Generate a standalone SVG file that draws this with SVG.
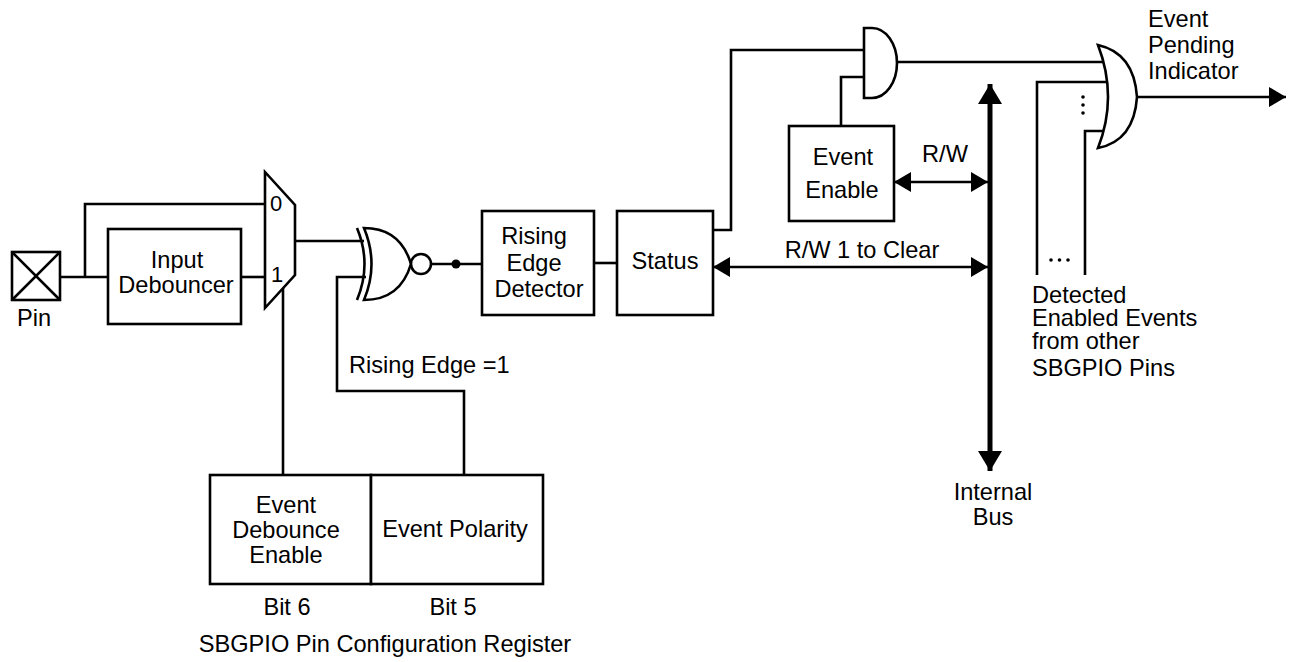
<svg xmlns="http://www.w3.org/2000/svg" width="1289" height="662" viewBox="0 0 1289 662">
<style>
.ln{fill:none;stroke:#000;stroke-width:2.6;stroke-linejoin:miter}
.bx{fill:#fff;stroke:#000;stroke-width:2.6}
.t{font-family:"Liberation Sans",Arial,Helvetica,sans-serif;font-size:23.6px;fill:#000}
.c{text-anchor:middle}
.dot{fill:#000}
</style>
<defs>
<marker id="ah" markerUnits="userSpaceOnUse" viewBox="0 0 17 20" refX="17" refY="10" markerWidth="17" markerHeight="20" orient="auto-start-reverse">
<path d="M0,0 L17,10 L0,20 Z" fill="#000"/>
</marker>
<marker id="bh" markerUnits="userSpaceOnUse" viewBox="0 0 20 24" refX="20" refY="12" markerWidth="20" markerHeight="24" orient="auto-start-reverse">
<path d="M0,0 L20,12 L0,24 Z" fill="#000"/>
</marker>
</defs>
<rect width="1289" height="662" fill="#fff"/>

<g id="connectors">
<path class="ln" d="M60,277 H108"/>
<path class="ln" d="M85,277 V204 H265"/>
<path class="ln" d="M241,277 H265"/>
<path class="ln" d="M295,241 H364"/>
<path class="ln" d="M283,288 V475"/>
<path class="ln" d="M464,475 V391 H337 V277 H366"/>
<path class="ln" d="M431,264 H482"/>
<circle class="dot" cx="456" cy="264" r="4.5"/>
<path class="ln" d="M594,263 H617"/>
<path class="ln" d="M713,230 H731 V50 H864"/>
<path class="ln" d="M841,126 V77 H864"/>
<path class="ln" d="M897,62 H1104"/>
<path class="ln" d="M1037,275 V82 H1107"/>
<path class="ln" d="M1085,275 V131 H1104"/>
<path class="ln" d="M894,182 H988" marker-start="url(#ah)" marker-end="url(#ah)"/>
<path class="ln" d="M713,267 H988" marker-start="url(#ah)" marker-end="url(#ah)"/>
<path class="ln" d="M1137,97 H1286" marker-end="url(#ah)"/>
<path d="M990,84 V471" fill="none" stroke="#000" stroke-width="5" marker-start="url(#bh)" marker-end="url(#bh)"/>
<circle class="dot" cx="1083" cy="97" r="1.8"/>
<circle class="dot" cx="1083" cy="105" r="1.8"/>
<circle class="dot" cx="1083" cy="113" r="1.8"/>
<circle class="dot" cx="1051" cy="260" r="1.8"/>
<circle class="dot" cx="1059.5" cy="260" r="1.8"/>
<circle class="dot" cx="1068" cy="260" r="1.8"/>
<text class="t c" x="945" y="162">R/W</text>
<text class="t c" x="862" y="258">R/W 1 to Clear</text>
<text class="t" x="349" y="373">Rising Edge =1</text>
<text class="t c" x="993" y="500">Internal</text>
<text class="t c" x="993" y="525">Bus</text>
<text class="t" x="1032" y="303">Detected</text>
<text class="t" x="1032" y="326">Enabled Events</text>
<text class="t" x="1032" y="349">from other</text>
<text class="t" x="1032" y="376">SBGPIO Pins</text>
<text class="t" x="1148" y="27">Event</text>
<text class="t" x="1148" y="53">Pending</text>
<text class="t" x="1148" y="79">Indicator</text>
</g>

<g id="pin">
<rect class="bx" x="12" y="252" width="48" height="48"/>
<path class="ln" d="M12,252 L60,300 M60,252 L12,300"/>
<text class="t c" x="34" y="326">Pin</text>
</g>

<g id="input-debouncer">
<rect class="bx" x="108" y="229" width="133" height="95"/>
<text class="t c" x="177" y="268">Input</text>
<text class="t c" x="176" y="293">Debouncer</text>
</g>

<g id="mux">
<path class="bx" d="M265,172 L295,205 L295,275 L265,308 Z"/>
<text class="t c" x="276" y="211" style="font-size:22px">0</text>
<text class="t c" x="277" y="282" style="font-size:22px">1</text>
</g>

<g id="xnor">
<path class="ln" d="M357,228 Q372,264 357,300"/>
<path class="bx" d="M364,228 C392,228 405,244 411,264 C405,284 392,300 364,300 Q379,264 364,228 Z"/>
<circle class="bx" cx="421" cy="264" r="10"/>
</g>

<g id="rising-edge-detector">
<rect class="bx" x="482" y="211" width="112" height="104"/>
<text class="t c" x="534" y="244">Rising</text>
<text class="t c" x="534" y="271">Edge</text>
<text class="t c" x="539" y="297">Detector</text>
</g>

<g id="status">
<rect class="bx" x="617" y="211" width="96" height="104"/>
<text class="t c" x="665" y="269">Status</text>
</g>

<g id="and-gate">
<path class="bx" d="M864,28 H872 A25,35 0 0 1 872,98 H864 Z"/>
</g>

<g id="event-enable">
<rect class="bx" x="789" y="126" width="105" height="95"/>
<text class="t c" x="843" y="165">Event</text>
<text class="t c" x="842" y="198">Enable</text>
</g>

<g id="or-gate">
<path class="bx" d="M1098,45 Q1134,53 1137,97 Q1134,141 1098,148 Q1118,97 1098,45 Z"/>
</g>

<g id="config-register">
<rect class="bx" x="210" y="475" width="161" height="109"/>
<rect class="bx" x="371" y="475" width="172" height="109"/>
<text class="t c" x="286" y="513">Event</text>
<text class="t c" x="286" y="538">Debounce</text>
<text class="t c" x="286" y="563">Enable</text>
<text class="t c" x="455" y="537">Event Polarity</text>
<text class="t c" x="287" y="615">Bit 6</text>
<text class="t c" x="453" y="615">Bit 5</text>
<text class="t c" x="385" y="652">SBGPIO Pin Configuration Register</text>
</g>
</svg>
